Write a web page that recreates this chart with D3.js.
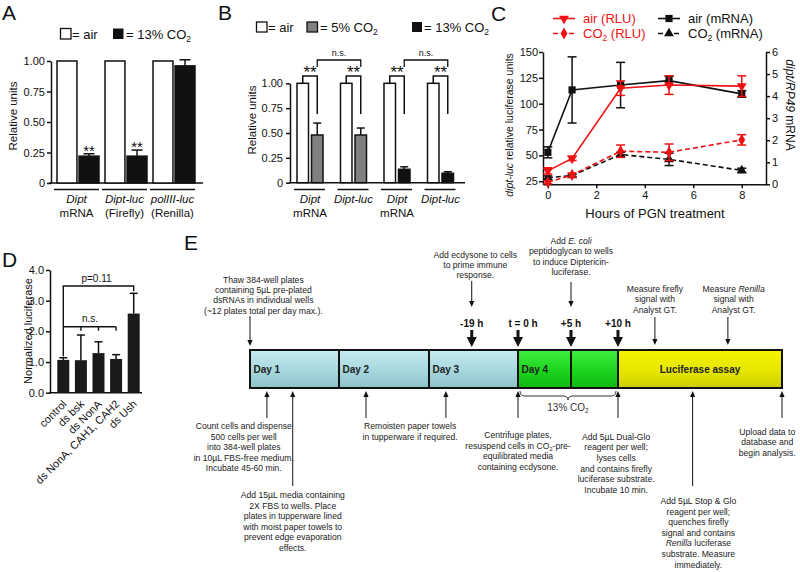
<!DOCTYPE html>
<html><head><meta charset="utf-8">
<script src="https://cdn.jsdelivr.net/npm/d3@7"></script>
<style>
body{margin:0;background:#fff;}
svg{display:block;font-family:"Liberation Sans",Arial,Helvetica,sans-serif;}
</style></head><body>
<svg id="fig" width="800" height="572"></svg>
<script>
// ================= DATA =================
// Panel A
const aGroups = ["Dipt mRNA", "Dipt-luc (Firefly)", "polIII-luc (Renilla)"];
const aLabel1 = ["<i>Dipt</i>", "<i>Dipt-luc</i>", "<i>polIII-luc</i>"];
const aLabel2 = ["mRNA", "(Firefly)", "(Renilla)"];
const aAir = [1, 1, 1];
const aCO2 = [0.22, 0.22, 0.96];
const aCO2Err = [0.02, 0.05, 0.05];
const aSig = ["**", "**", ""];
const aTicks = [0, 0.25, 0.5, 0.75, 1];

// Panel B
const bGroups = ["g1", "g2", "g3", "g4"];
const bLabel1 = ["<i>Dipt</i>", "<i>Dipt-luc</i>", "<i>Dipt</i>", "<i>Dipt-luc</i>"];
const bLabel2 = ["mRNA", "", "mRNA", ""];
const bAir = [1, 1, 1, 1];
const bTreat = [0.48, 0.48, 0.135, 0.095];
const bTreatErr = [0.12, 0.07, 0.025, 0.015];
const bTreatKind = ["5%", "5%", "13%", "13%"];
const bSig = ["**", "**", "**", "**"];
const bNS = [[0, 1], [2, 3]];
const bTicks = [0, 0.25, 0.5, 0.75, 1];

// Panel C
const cHours = [0, 1, 3, 5, 8];
const cAirRLU = [35, 47, 115, 118, 117];
const cAirRLUErr = [3, 2, 7, 9, 10];
const cCO2RLU = [24, 31, 54, 53, 65];
const cCO2RLUErr = [1.5, 2, 6, 8, 5];
const cAirMRNA = [1.45, 4.28, 4.5, 4.7, 4.1];
const cAirMRNAErr = [0.25, 1.5, 1.03, 0.2, 0.15];
const cCO2MRNA = [0.3, 0.4, 1.35, 1.13, 0.63];
const cCO2MRNAErr = [0.08, 0.05, 0.1, 0.28, 0.1];
const cLeftTicks = [25, 50, 75, 100, 125, 150];
const cRightTicks = [0, 1, 2, 3, 4, 5, 6];
const cXTicks = [0, 2, 4, 6, 8];

// Panel D
const dCats = ["control", "ds bsk", "ds NonA", "ds NonA, CAH1, CAH2", "ds Ush"];
const dVals = [1.07, 1.06, 1.29, 1.10, 2.58];
const dErr = [0.07, 0.82, 0.37, 0.14, 0.66];
const dTicks = [0, 1, 2, 3, 4];

// Panel E (schedule units: days 1-3, Day 4 0h / +5h / +10h, end of assay)
const eStops = [0, 1, 2, 3, 3.5, 4, 6];
const eSegments = [
  {label: "Day 1", from: 0, to: 1, kind: "day"},
  {label: "Day 2", from: 1, to: 2, kind: "day"},
  {label: "Day 3", from: 2, to: 3, kind: "day"},
  {label: "Day 4", from: 3, to: 3.5, kind: "co2"},
  {label: "", from: 3.5, to: 4, kind: "co2"},
  {label: "Luciferase assay", from: 4, to: 6, kind: "assay"}
];
const eTimes = [
  {label: "-19 h", at: 2.48},
  {label: "t = 0 h", at: 3},
  {label: "+5 h", at: 3.5},
  {label: "+10 h", at: 4}
];
const eTopNotes = [
  {at: 0, textAt: 0.15, lines: ["Thaw 384-well plates", "containing 5µL pre-plated", "dsRNAs in individual wells", "(~12 plates total per day max.)."]},
  {at: 2.48, textAt: 2.52, lines: ["Add ecdysone to cells", "to prime immune", "response."]},
  {at: 3.5, textAt: 3.5, lines: ["Add <i>E. coli</i>", "peptidoglycan to wells", "to induce Diptericin-", "luciferase."]},
  {at: 4.45, textAt: 4.45, lines: ["Measure firefly", "signal with", "Analyst GT."]},
  {at: 5.34, textAt: 5.41, lines: ["Measure <i>Renilla</i>", "signal with", "Analyst GT."]}
];
const eBottomNotes = [
  {arrows: [0.19], long: false, textAt: -0.07, lines: ["Count cells and dispense", "500 cells per well", "into 384-well plates", "in 10µL FBS-free medium.", "Incubate 45-60 min."]},
  {arrows: [0.48], long: true, textAt: 0.48, lines: ["Add 15µL media containing", "2X FBS to wells. Place", "plates in tupperware lined", "with moist paper towels to", "prevent edge evaporation", "effects."]},
  {arrows: [1.3, 2.19], long: false, textAt: 1.79, lines: ["Remoisten paper towels", "in tupperware if required."]},
  {arrows: [3], long: false, textAt: 3.0, lines: ["Centrifuge plates,", "resuspend cells in CO<sub>2</sub>-pre-", "equilibrated media", "containing ecdysone."]},
  {arrows: [4], long: false, textAt: 3.98, lines: ["Add 5µL Dual-Glo", "reagent per well;", "lyses cells", "and contains firefly", "luciferase substrate.", "Incubate 10 min."]},
  {arrows: [4.91], long: true, textAt: 4.98, lines: ["Add 5µL Stop & Glo", "reagent per well;", "quenches firefly", "signal and contains", "<i>Renilla</i> luciferase", "substrate. Measure", "immediately."]},
  {arrows: [6], long: false, textAt: 5.82, lines: ["Upload data to", "database and", "begin analysis."]}
];

// ================= HELPERS =================
const svg = d3.select("#fig");
const RED = "#ee1111";
const INK = "#111";

function rich(t, str, fs) {
  const parts = str.split(/(<i>.*?<\/i>|<sub>.*?<\/sub>)/).filter(s => s.length);
  let pendingUp = 0;
  parts.forEach(p => {
    let ts;
    if (p.startsWith("<i>")) ts = t.append("tspan").attr("font-style", "italic").text(p.slice(3, -4));
    else if (p.startsWith("<sub>")) {
      ts = t.append("tspan").attr("font-size", fs * 0.65).attr("dy", fs * 0.25).text(p.slice(5, -6));
      if (pendingUp) ts.attr("dy", 0);
      pendingUp = fs * 0.25;
      return;
    } else ts = t.append("tspan").text(p);
    if (pendingUp) { ts.attr("dy", -pendingUp); pendingUp = 0; }
  });
}
function styleAxis(g, fs) {
  g.attr("font-family", null);
  g.selectAll("path.domain").attr("stroke", INK).attr("stroke-width", 1.5);
  g.selectAll(".tick line").attr("stroke", INK).attr("stroke-width", 1.5);
  g.selectAll(".tick text").attr("font-size", fs).attr("fill", INK);
}
function panelLabel(t, x, y) {
  svg.append("text").attr("x", x).attr("y", y).attr("font-size", 21).attr("fill", INK).text(t);
}
function errUp(g, x, y0, y1, w) {
  g.append("line").attr("x1", x).attr("x2", x).attr("y1", y0).attr("y2", y1).attr("stroke", INK).attr("stroke-width", 1.5);
  g.append("line").attr("x1", x - w / 2).attr("x2", x + w / 2).attr("y1", y1).attr("y2", y1).attr("stroke", INK).attr("stroke-width", 1.5);
}

// ================= PANEL A =================
(function () {
  const g = svg.append("g");
  const y = d3.scaleLinear().domain([0, 1]).range([183, 61]);
  const x = d3.scaleBand().domain(aGroups).range([54, 198]).paddingInner(0.125).paddingOuter(0.0625);
  const sub = d3.scaleBand().domain(["air", "co2"]).range([0, x.bandwidth()]).paddingInner(0.095);
  const ax = g.append("g").attr("transform", "translate(51,0)")
    .call(d3.axisLeft(y).tickValues(aTicks).tickSize(4).tickPadding(2).tickSizeOuter(0)
      .tickFormat(d => d === 0 ? "0" : d.toFixed(2)));
  styleAxis(ax, 11);
  g.append("line").attr("x1", 49).attr("x2", 203).attr("y1", y(0)).attr("y2", y(0)).attr("stroke", INK).attr("stroke-width", 1.5);
  aGroups.forEach((grp, i) => {
    const x0 = x(grp);
    g.append("rect").attr("x", x0 + sub("air")).attr("y", y(aAir[i])).attr("width", sub.bandwidth())
      .attr("height", y(0) - y(aAir[i])).attr("fill", "#fff").attr("stroke", INK).attr("stroke-width", 1.5);
    g.append("rect").attr("x", x0 + sub("co2")).attr("y", y(aCO2[i])).attr("width", sub.bandwidth())
      .attr("height", y(0) - y(aCO2[i])).attr("fill", INK).attr("stroke", INK).attr("stroke-width", 1.5);
    const cx = x0 + sub("co2") + sub.bandwidth() / 2;
    errUp(g, cx, y(aCO2[i]), y(aCO2[i] + aCO2Err[i]), 11);
    if (aSig[i]) g.append("text").attr("x", cx).attr("y", y(aCO2[i] + aCO2Err[i]) + 2)
      .attr("text-anchor", "middle").attr("font-size", 15).attr("fill", INK).text(aSig[i]);
    g.append("line").attr("x1", x0 - 3).attr("x2", x0 + x.bandwidth()).attr("y1", 189.5).attr("y2", 189.5).attr("stroke", INK).attr("stroke-width", 1.5);
    const t1 = g.append("text").attr("x", x0 + x.bandwidth() / 2 - 1.5).attr("y", 203).attr("text-anchor", "middle").attr("font-size", 11.5).attr("fill", INK);
    rich(t1, aLabel1[i], 11.5);
    g.append("text").attr("x", x0 + x.bandwidth() / 2 - 1.5).attr("y", 217).attr("text-anchor", "middle").attr("font-size", 11.5).attr("fill", INK).text(aLabel2[i]);
  });
  g.append("text").attr("transform", "translate(17,116) rotate(-90)").attr("text-anchor", "middle").attr("font-size", 11.5).attr("fill", INK).text("Relative units");
  // legend
  g.append("rect").attr("x", 60.5).attr("y", 28.5).attr("width", 10.5).attr("height", 10.5).attr("fill", "#fff").attr("stroke", INK).attr("stroke-width", 1.3);
  g.append("text").attr("x", 72).attr("y", 38.5).attr("font-size", 13).attr("fill", INK).text("= air");
  g.append("rect").attr("x", 113).attr("y", 28.5).attr("width", 10.5).attr("height", 10.5).attr("fill", INK);
  rich(g.append("text").attr("x", 126).attr("y", 38.5).attr("font-size", 13).attr("fill", INK), "= 13% CO<sub>2</sub>", 13);
})();

// ================= PANEL B =================
(function () {
  const g = svg.append("g");
  const y = d3.scaleLinear().domain([0, 1]).range([182.7, 83.3]);
  const x = d3.scaleBand().domain(bGroups).range([288.25, 462.25]).paddingInner(0.402).paddingOuter(0.201);
  const sub = d3.scaleBand().domain(["air", "treat"]).range([0, x.bandwidth()]).paddingInner(0.2069);
  const ax = g.append("g").attr("transform", "translate(290,0)")
    .call(d3.axisLeft(y).tickValues(bTicks).tickSize(4).tickPadding(3).tickSizeOuter(0)
      .tickFormat(d => d === 0 ? "0" : d.toFixed(2)));
  styleAxis(ax, 11);
  g.append("line").attr("x1", 289).attr("x2", 465).attr("y1", y(0)).attr("y2", y(0)).attr("stroke", INK).attr("stroke-width", 1.5);
  const fillFor = k => k === "5%" ? "#808080" : INK;
  const centers = [];
  bGroups.forEach((grp, i) => {
    const x0 = x(grp);
    const ac = x0 + sub("air") + sub.bandwidth() / 2;
    const tc = x0 + sub("treat") + sub.bandwidth() / 2;
    centers.push(tc);
    g.append("rect").attr("x", x0 + sub("air")).attr("y", y(bAir[i])).attr("width", sub.bandwidth())
      .attr("height", y(0) - y(bAir[i])).attr("fill", "#fff").attr("stroke", INK).attr("stroke-width", 1.5);
    g.append("rect").attr("x", x0 + sub("treat")).attr("y", y(bTreat[i])).attr("width", sub.bandwidth())
      .attr("height", y(0) - y(bTreat[i])).attr("fill", fillFor(bTreatKind[i])).attr("stroke", INK).attr("stroke-width", 1.5);
    errUp(g, tc, y(bTreat[i]), y(bTreat[i] + bTreatErr[i]), 8);
    g.append("path").attr("d", `M${ac},${y(bAir[i])}V76H${tc}V114`).attr("fill", "none").attr("stroke", INK).attr("stroke-width", 1.5);
    g.append("text").attr("x", (ac + tc) / 2).attr("y", 78).attr("text-anchor", "middle").attr("font-size", 17).attr("fill", INK).text(bSig[i]);
    g.append("line").attr("x1", x0 - 3).attr("x2", x0 + x.bandwidth() + 2).attr("y1", 189.5).attr("y2", 189.5).attr("stroke", INK).attr("stroke-width", 1.5);
    rich(g.append("text").attr("x", x0 + x.bandwidth() / 2).attr("y", 203).attr("text-anchor", "middle").attr("font-size", 11.5).attr("fill", INK), bLabel1[i], 11.5);
    if (bLabel2[i]) g.append("text").attr("x", x0 + x.bandwidth() / 2).attr("y", 217).attr("text-anchor", "middle").attr("font-size", 11.5).attr("fill", INK).text(bLabel2[i]);
  });
  bNS.forEach(([a, b]) => {
    g.append("path").attr("d", `M${centers[a]},67V60H${centers[b]}V67`).attr("fill", "none").attr("stroke", INK).attr("stroke-width", 1.3);
    g.append("text").attr("x", (centers[a] + centers[b]) / 2).attr("y", 55.5).attr("text-anchor", "middle").attr("font-size", 9).attr("fill", INK).text("n.s.");
  });
  g.append("text").attr("transform", "translate(255.5,120) rotate(-90)").attr("text-anchor", "middle").attr("font-size", 11.5).attr("fill", INK).text("Relative units");
  g.append("rect").attr("x", 256.5).attr("y", 22).attr("width", 10.5).attr("height", 10).attr("fill", "#fff").attr("stroke", INK).attr("stroke-width", 1.3);
  g.append("text").attr("x", 268).attr("y", 31.5).attr("font-size", 13).attr("fill", INK).text("= air");
  g.append("rect").attr("x", 307).attr("y", 22).attr("width", 10.5).attr("height", 10).attr("fill", "#808080").attr("stroke", INK).attr("stroke-width", 1.3);
  rich(g.append("text").attr("x", 320).attr("y", 31.5).attr("font-size", 13).attr("fill", INK), "= 5% CO<sub>2</sub>", 13);
  g.append("rect").attr("x", 412).attr("y", 22).attr("width", 10).attr("height", 10).attr("fill", INK);
  rich(g.append("text").attr("x", 424).attr("y", 31.5).attr("font-size", 13).attr("fill", INK), "= 13% CO<sub>2</sub>", 13);
})();

// ================= PANEL C =================
(function () {
  const g = svg.append("g");
  const x = d3.scaleLinear().domain([-0.2, 9]).range([543, 766]);
  const yL = d3.scaleLinear().domain([22, 150]).range([184.3, 52]);
  const yR = d3.scaleLinear().domain([0, 6]).range([184.3, 52]);
  const axL = g.append("g").attr("transform", "translate(543,0)")
    .call(d3.axisLeft(yL).tickValues(cLeftTicks).tickSize(4).tickPadding(1).tickSizeOuter(0));
  styleAxis(axL, 11);
  const axR = g.append("g").attr("transform", "translate(766,0)")
    .call(d3.axisRight(yR).tickValues(cRightTicks).tickSize(4).tickPadding(2).tickSizeOuter(0).tickFormat(d3.format("d")));
  styleAxis(axR, 11);
  const axB = g.append("g").attr("transform", "translate(0,184.3)")
    .call(d3.axisBottom(x).tickValues(cXTicks).tickSize(4).tickPadding(3).tickSizeOuter(0));
  styleAxis(axB, 11);
  g.append("text").attr("x", 655).attr("y", 218).attr("text-anchor", "middle").attr("font-size", 13).attr("fill", INK).text("Hours of PGN treatment");
  rich(g.append("text").attr("transform", "translate(513,125) rotate(-90)").attr("text-anchor", "middle").attr("font-size", 10.5).attr("fill", INK),
    "<i>dipt-luc</i> relative luciferase units", 10.5);
  rich(g.append("text").attr("transform", "translate(786,105) rotate(90)").attr("text-anchor", "middle").attr("font-size", 12).attr("fill", INK),
    "<i>dipt/RP49</i> mRNA", 12);

  const series = [
    {name: "air (mRNA)", vals: cAirMRNA, err: cAirMRNAErr, y: yR, color: INK, dash: null, sym: "square"},
    {name: "CO<sub>2</sub> (mRNA)", vals: cCO2MRNA, err: cCO2MRNAErr, y: yR, color: INK, dash: "5,3", sym: "tup"},
    {name: "CO<sub>2</sub> (RLU)", vals: cCO2RLU, err: cCO2RLUErr, y: yL, color: RED, dash: "5,3", sym: "diamond"},
    {name: "air (RLU)", vals: cAirRLU, err: cAirRLUErr, y: yL, color: RED, dash: null, sym: "tdown"}
  ];
  const symPath = {
    square: d3.symbol(d3.symbolSquare, 52)(),
    tup: d3.symbol(d3.symbolTriangle, 42)(),
    tdown: d3.symbol(d3.symbolTriangle, 42)(),
    diamond: d3.symbol(d3.symbolDiamond, 40)()
  };
  function drawSym(sel, sym, cx, cy, color) {
    sel.append("path").attr("d", symPath[sym])
      .attr("transform", `translate(${cx},${cy})${sym === "tdown" ? " rotate(180)" : ""}`)
      .attr("fill", color);
  }
  series.forEach(s => {
    const pts = cHours.map((h, i) => ({h, v: s.vals[i], e: s.err[i]}));
    pts.forEach(p => {
      const cx = x(p.h), y0 = s.y(p.v - p.e), y1 = s.y(p.v + p.e);
      g.append("line").attr("x1", cx).attr("x2", cx).attr("y1", y0).attr("y2", y1).attr("stroke", s.color).attr("stroke-width", 1.5);
      [y0, y1].forEach(yy => g.append("line").attr("x1", cx - 4.5).attr("x2", cx + 4.5).attr("y1", yy).attr("y2", yy).attr("stroke", s.color).attr("stroke-width", 1.5));
    });
    g.append("path").datum(pts).attr("d", d3.line().x(d => x(d.h)).y(d => s.y(d.v)))
      .attr("fill", "none").attr("stroke", s.color).attr("stroke-width", 1.6).attr("stroke-dasharray", s.dash);
    pts.forEach(p => drawSym(g, s.sym, x(p.h), s.y(p.v), s.color));
  });
  const leg = [
    {s: series[3], x: 553, y: 18.5},
    {s: series[0], x: 658, y: 18.5},
    {s: series[2], x: 553, y: 33.5},
    {s: series[1], x: 658, y: 33.5}
  ];
  leg.forEach(l => {
    g.append("line").attr("x1", l.x).attr("x2", l.x + 22).attr("y1", l.y).attr("y2", l.y)
      .attr("stroke", l.s.color).attr("stroke-width", 1.6).attr("stroke-dasharray", l.s.dash ? "5,3" : null);
    drawSym(g, l.s.sym, l.x + 11, l.y, l.s.color);
    rich(g.append("text").attr("x", l.x + 30).attr("y", l.y + 4.5).attr("font-size", 13).attr("fill", l.s.color), l.s.name, 13);
  });
})();

// ================= PANEL D =================
(function () {
  const g = svg.append("g");
  const y = d3.scaleLinear().domain([0, 4]).range([392.7, 270]);
  const x = d3.scaleBand().domain(dCats).range([54.5, 142.5]).paddingInner(0.318).paddingOuter(0.159);
  const ax = g.append("g").attr("transform", "translate(50,0)")
    .call(d3.axisLeft(y).tickValues(dTicks).tickSize(4).tickPadding(2).tickSizeOuter(0));
  styleAxis(ax, 11);
  g.append("line").attr("x1", 49).attr("x2", 142).attr("y1", y(0)).attr("y2", y(0)).attr("stroke", INK).attr("stroke-width", 1.5);
  const cx = c => x(c) + x.bandwidth() / 2;
  dCats.forEach((c, i) => {
    g.append("rect").attr("x", x(c)).attr("y", y(dVals[i])).attr("width", x.bandwidth()).attr("height", y(0) - y(dVals[i])).attr("fill", "#1a1a1a");
    errUp(g, cx(c), y(dVals[i]), y(dVals[i] + dErr[i]), 8);
    g.append("text").attr("transform", `translate(${cx(c) + 4},${y(0) + 12}) rotate(-45)`).attr("text-anchor", "end")
      .attr("font-size", 11).attr("fill", INK).text(c);
  });
  const c0 = cx(dCats[0]), c4 = cx(dCats[4]);
  g.append("path").attr("d", `M${c0},${y(dVals[0] + dErr[0]) - 1.5}V286H${c4}V${y(dVals[4] + dErr[4]) - 2}`).attr("fill", "none").attr("stroke", INK).attr("stroke-width", 1.4);
  g.append("text").attr("x", (c0 + c4) / 2 - 2).attr("y", 282).attr("text-anchor", "middle").attr("font-size", 10).attr("fill", INK).text("p=0.11");
  const nsY = 326.7;
  g.append("line").attr("x1", c0).attr("x2", cx(dCats[3])).attr("y1", nsY).attr("y2", nsY).attr("stroke", INK).attr("stroke-width", 1.4);
  [1, 2, 3].forEach(i => g.append("line").attr("x1", cx(dCats[i])).attr("x2", cx(dCats[i])).attr("y1", nsY).attr("y2", nsY + 4).attr("stroke", INK).attr("stroke-width", 1.4));
  g.append("text").attr("x", 90).attr("y", 322).attr("text-anchor", "middle").attr("font-size", 10).attr("fill", INK).text("n.s.");
  g.append("text").attr("transform", "translate(31.5,331) rotate(-90)").attr("text-anchor", "middle").attr("font-size", 11).attr("fill", INK).text("Normalized luciferase");
})();

// ================= PANEL E =================
(function () {
  const g = svg.append("g");
  const x = d3.scaleLinear().domain(eStops).range([250, 339, 429, 518, 571, 618, 782]);
  const barTop = 350, barBot = 388;
  const defs = svg.append("defs");
  const grads = {
    day: ["#c6ecf0", "#a6d7dd", "#8cc2c9"],
    co2: ["#40ee40", "#1cd41c", "#10b810"],
    assay: ["#f4f400", "#e6e600", "#cccc00"]
  };
  Object.entries(grads).forEach(([k, cs]) => {
    const lg = defs.append("linearGradient").attr("id", "g_" + k).attr("x1", 0).attr("x2", 0).attr("y1", 0).attr("y2", 1);
    lg.append("stop").attr("offset", "0%").attr("stop-color", cs[0]);
    lg.append("stop").attr("offset", "55%").attr("stop-color", cs[1]);
    lg.append("stop").attr("offset", "100%").attr("stop-color", cs[2]);
  });
  eSegments.forEach(s => {
    g.append("rect").attr("x", x(s.from)).attr("y", barTop).attr("width", x(s.to) - x(s.from)).attr("height", barBot - barTop)
      .attr("fill", `url(#g_${s.kind})`).attr("stroke", "#111").attr("stroke-width", 2);
    if (s.label) {
      if (s.kind === "assay")
        g.append("text").attr("x", (x(s.from) + x(s.to)) / 2).attr("y", 373).attr("text-anchor", "middle").attr("font-size", 10).attr("font-weight", "bold").attr("fill", "#222").text(s.label);
      else
        g.append("text").attr("x", x(s.from) + 3.5).attr("y", 373).attr("font-size", 10).attr("font-weight", "bold").attr("fill", "#222").text(s.label);
    }
  });
  const NOTE = 8.6, LH = 10.4;
  function downArrow(xx, y0, y1) {
    g.append("line").attr("x1", xx).attr("x2", xx).attr("y1", y0).attr("y2", y1 - 4).attr("stroke", "#111").attr("stroke-width", 1);
    g.append("path").attr("d", `M${xx - 2.6},${y1 - 6}L${xx + 2.6},${y1 - 6}L${xx},${y1}Z`).attr("fill", "#111");
  }
  function upArrow(xx, y0, y1) {
    g.append("line").attr("x1", xx).attr("x2", xx).attr("y1", y0 + 4).attr("y2", y1).attr("stroke", "#111").attr("stroke-width", 1);
    g.append("path").attr("d", `M${xx - 2.6},${y0 + 6}L${xx + 2.6},${y0 + 6}L${xx},${y0}Z`).attr("fill", "#111");
  }
  function lines(cx, yCenter0, arr, lh) {
    arr.forEach((ln, i) => {
      rich(g.append("text").attr("x", cx).attr("y", yCenter0 + i * lh + 3).attr("text-anchor", "middle").attr("font-size", NOTE).attr("fill", "#222"), ln, NOTE);
    });
  }
  eTimes.forEach(t => {
    const xx = x(t.at);
    g.append("text").attr("x", xx + (t.label.startsWith("t") ? 5 : 0)).attr("y", 327).attr("text-anchor", "middle").attr("font-size", 10).attr("font-weight", "bold").attr("fill", "#111").text(t.label);
    g.append("line").attr("x1", xx).attr("x2", xx).attr("y1", 330).attr("y2", 339).attr("stroke", "#111").attr("stroke-width", 3);
    g.append("path").attr("d", `M${xx - 5},${337}L${xx + 5},${337}L${xx},${347}Z`).attr("fill", "#111");
  });
  const topY = [279.5, 254.5, 241, 289, 289];
  const topArrow = [[316, 346], [281, 307], [282, 307], [317, 345], [317, 345]];
  eTopNotes.forEach((n, i) => {
    lines(x(n.textAt), topY[i], n.lines, LH);
    downArrow(x(n.at), topArrow[i][0], topArrow[i][1]);
  });
  const botY = [426, 495, 426, 435, 436.7, 501, 431.7];
  eBottomNotes.forEach((n, i) => {
    n.arrows.forEach(a => upArrow(x(a), barBot + 3, n.long ? 486 : 418));
    lines(x(n.textAt), botY[i], n.lines, 10.6);
  });
  const x1 = x(3) + 2, x2 = x(4) - 2, mid = (x1 + x2) / 2;
  g.append("path").attr("d", `M${x1},391Q${x1},396 ${x1 + 5},396L${mid - 5},396Q${mid},396 ${mid},400Q${mid},396 ${mid + 5},396L${x2 - 5},396Q${x2},396 ${x2},391`)
    .attr("fill", "none").attr("stroke", "#333").attr("stroke-width", 1);
  rich(g.append("text").attr("x", mid).attr("y", 410.5).attr("text-anchor", "middle").attr("font-size", 10).attr("fill", "#333"), "13% CO<sub>2</sub>", 10);
})();

panelLabel("A", 2, 19.5);
panelLabel("B", 218, 19.5);
panelLabel("C", 491, 20.5);
panelLabel("D", 2, 267);
panelLabel("E", 184, 250);
</script>
</body></html>
